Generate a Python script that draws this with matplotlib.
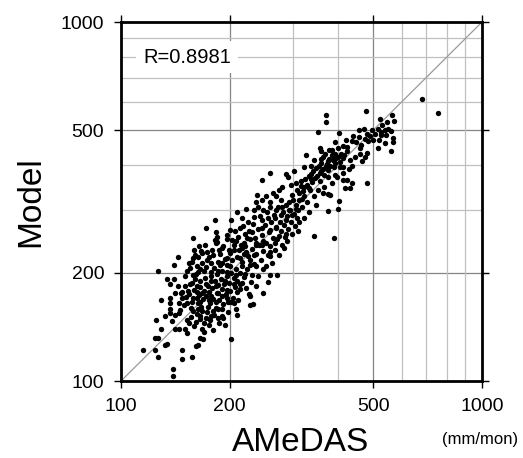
import matplotlib
matplotlib.use("Agg")
import matplotlib.pyplot as plt
import numpy as np

plt.rcParams['font.family'] = ['Liberation Sans', 'DejaVu Sans']

# ---- data (mm/mon) ----
low_x = [129,137,137,137,137,145,148,152,157,162,166,172,175,183,158,163,168,174,180,186,162,166,172,177,186,132,141,145,125,129,138,141,145,150,154,159,168,175,180,152,166,170,124,127,132,148,148,157,163,115,124,127,139,139,134,169,161]
low_y = [168,170,165,159,155,165,170,165,166,170,166,172,168,166,157,159,157,161,157,159,154,152,150,152,150,152,153,155,148,140,147,140,140,140,145,142,140,143,139,136,132,137,132,132,126,122,115,117,126,122,122,117,108,103,127,131,125]

left_x = [182,172,183,185,158,182,185,159,168,173,180,187,144,140,158,163,173,154,162,168,177,186,127,134,140,152,158,163,170,177,186,137,144,150,157,162,166,172,177,183,141,148,154,162,168,175,186]
left_y = [281,266,260,252,251,247,244,231,227,229,225,231,221,211,220,221,217,213,209,213,213,215,203,193,193,203,197,201,203,201,203,186,184,184,188,184,190,186,190,184,176,177,175,177,176,177,176]

mid_x = [210,222,233,240,247,259,268,280,292,305,318,332,202,216,225,233,245,256,267,278,287,298,311,322,200,213,221,231,245,258,268,274,286,343,196,208,219,227,237,247,267,288,191,205,216,222,236,245,283,259,197,213,225,233,258,274,191,200,216,227,236,252,196,208,221,231,259,194,205,216,222,236,190,197,210,247,
         197,202,206,208,191,191,194,210,227,227,202]
mid_y = [296,302,299,306,299,306,299,306,299,302,306,296,281,284,278,287,281,284,284,290,281,290,278,284,263,266,257,260,266,263,269,254,257,254,248,245,243,248,243,245,243,245,235,232,235,229,239,239,235,229,220,220,223,225,223,225,213,209,209,211,209,209,201,197,199,197,198,190,186,188,182,184,181,179,177,176,
         170,166,165,159,159,152,143,153,172,163,131]

upper_x = [352,355,326,343,337,321,302,258,246,287,290,335,337,355,305,315,296,322,280,274,308,332,352,264,252,238,268,298,322,343,236,245,258,278,292,311,327]
upper_y = [494,445,425,412,398,394,384,380,362,378,370,378,366,380,356,360,352,348,348,341,341,345,341,334,327,329,327,330,327,327,315,319,315,319,315,319,315]

top_x = [476,370,370,563,570,523,545,402,455,471,480,496,514,526,538,526,543,561,566,566,538,561,514,474,484,437,392,458,480,474,423,465,437,377,358,363,383,398,413,375,392,358,370,404,413,358,392,375,413,423,383,480,417,432,437,363,375,402,
         374,400,390,680,757]
top_y = [565,551,526,551,529,538,525,492,499,505,488,499,505,494,499,484,484,496,475,464,459,437,445,472,467,467,463,445,431,422,436,410,398,440,436,422,427,422,418,410,406,406,398,394,394,384,374,370,362,362,356,357,345,345,355,334,331,317,
         297,302,251,609,559]

core_x = [146,149,151,153,155,156,158,159,160,161,163,164,165,166,167,169,170,171,172,173,174,176,177,178,179,180,181,182,183,184,185,186,187,188,189,190,191,192,193,194,195,196,197,198,199,200,201,202,203,204,205,206,207,208,209,210,211,212,213,214,
          152,156,161,165,170,176,181,187,192,198,147,150,155,157,160,164,167,171,175,179,183,188,192,196,199,203,207,211,215,218]
core_y = [158,163,171,178,186,160,170,179,192,199,165,174,183,205,161,169,178,194,208,156,184,165,173,196,182,169,207,190,160,176,199,185,168,211,193,172,202,164,186,219,175,196,210,166,188,227,178,200,218,170,194,240,183,205,222,190,168,231,200,181,
          148,151,146,149,145,148,153,145,150,156,176,196,207,215,225,237,230,240,221,232,243,226,238,255,232,247,262,252,240,270]

band_x = [217,219,221,223,224,226,228,230,232,234,235,237,239,241,243,244,246,248,250,252,254,255,257,259,261,263,265,267,269,271,273,275,277,279,281,283,285,287,289,291,293,295,297,299,301,303,305,307,309,240,248,255,262,270,229,219,213,226,232]
band_y = [215,226,238,250,205,262,218,233,273,212,251,226,265,240,288,218,255,230,272,243,295,225,260,237,278,250,290,232,266,248,305,278,262,240,296,272,252,310,288,265,300,277,256,320,292,270,310,285,262,196,205,189,213,198,189,195,186,175,164]

high_x = [312,316,320,324,328,331,334,338,341,344,347,350,353,356,359,362,365,368,371,374,377,380,383,386,389,392,395,399,403,407,411,415,419,424,430,440,448,455,462,490,500,505,520,530,550,310,318,346,366,380,396,412,428,445,460]
high_y = [333,350,338,365,352,372,340,358,385,367,392,372,398,360,415,390,376,428,401,388,416,398,440,412,395,430,418,447,408,430,452,425,470,448,412,480,462,478,455,480,470,488,470,515,505,300,322,310,348,330,370,380,390,420,430]

grid_vals = [200, 300, 400, 500, 600, 700, 800, 900]
major_ticks = [100, 200, 500, 1000]
r_value = "R=0.8981"

xs = low_x + left_x + mid_x + upper_x + top_x + core_x + band_x + high_x
ys = low_y + left_y + mid_y + upper_y + top_y + core_y + band_y + high_y

fig = plt.figure(figsize=(5.23, 4.58), dpi=100)
ax = fig.add_axes([0.2314, 0.1681, 0.6902, 0.7838])
ax.set_xscale('log')
ax.set_yscale('log')
ax.set_xlim(100, 1000)
ax.set_ylim(100, 1000)

for v in grid_vals:
    c = '#858585' if v in (200, 500) else '#c0c0c0'
    ax.axvline(v, color=c, lw=0.9, zorder=1)
    ax.axhline(v, color=c, lw=0.9, zorder=1)

ax.plot([100, 1000], [100, 1000], color='#9a9a9a', lw=0.9, zorder=2)
ax.scatter(xs, ys, s=15, c='k', linewidths=0, zorder=3)

ax.xaxis.set_minor_locator(matplotlib.ticker.NullLocator())
ax.yaxis.set_minor_locator(matplotlib.ticker.NullLocator())
ax.set_xticks(major_ticks)
ax.set_yticks(major_ticks)
ax.set_xticklabels([str(t) for t in major_ticks])
ax.set_yticklabels([str(t) for t in major_ticks])
ax.tick_params(which='major', direction='out', length=5, width=1, pad=7,
               top=True, right=True, labelsize=14, colors='k')
for s in ax.spines.values():
    s.set_linewidth(2)

ax.text(0.061, 0.9025, r_value, transform=ax.transAxes, fontsize=14.5,
        ha='left', va='center', zorder=5,
        bbox=dict(facecolor='white', edgecolor='none', pad=5))

fig.text(0.059, 0.56, 'Model', rotation=90, ha='center', va='center', fontsize=24)
fig.text(0.575, 0.033, 'AMeDAS', ha='center', va='center', fontsize=24)
fig.text(0.918, 0.04, '(mm/mon)', ha='center', va='center', fontsize=12)

fig.savefig('out.png', dpi=100)
